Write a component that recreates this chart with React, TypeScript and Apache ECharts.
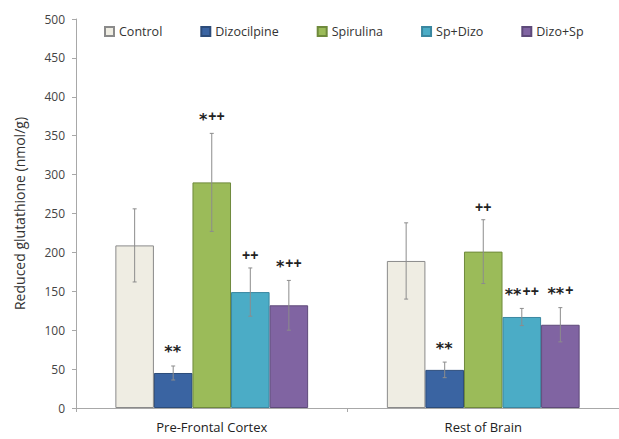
import React, { useEffect, useRef } from "react";
import * as echarts from "echarts";

const categories = ["Pre-Frontal Cortex", "Rest of Brain"];
const seriesNames = ["Control", "Dizocilpine", "Spirulina", "Sp+Dizo", "Dizo+Sp"];
const controlValues = [209, 189];
const dizocilpineValues = [45, 49];
const spirulinaValues = [290, 201];
const spDizoValues = [149, 117];
const dizoSpValues = [132, 107];
const controlErrors = [47, 49];
const dizocilpineErrors = [9, 10];
const spirulinaErrors = [63, 41];
const spDizoErrors = [31, 11];
const dizoSpErrors = [32, 22];
const controlMarks = ["", ""];
const dizocilpineMarks = ["**", "**"];
const spirulinaMarks = ["*++", "++"];
const spDizoMarks = ["++", "**++"];
const dizoSpMarks = ["*++", "**+"];
const yTicks = [0, 50, 100, 150, 200, 250, 300, 350, 400, 450, 500];

const colors = ["#efede3", "#3a64a2", "#9bbb59", "#4bacc6", "#8064a2"];
const borders = ["#8a8a8a", "#2c4c7a", "#6f8a3c", "#3a87a0", "#5e4a7a"];

const allValues = [controlValues, dizocilpineValues, spirulinaValues, spDizoValues, dizoSpValues];
const allErrors = [controlErrors, dizocilpineErrors, spirulinaErrors, spDizoErrors, dizoSpErrors];
const allMarks = [controlMarks, dizocilpineMarks, spirulinaMarks, spDizoMarks, dizoSpMarks];

const GAP = 0.29;

function toRich(mark: string) {
  const stars = mark.replace(/\+/g, "");
  const plus = mark.replace(/\*/g, "");
  let s = "";
  if (stars) s += "{a|" + stars + "}";
  if (plus) s += "{p|" + plus + "}";
  return s;
}

export default function App() {
  const ref = useRef<HTMLDivElement>(null);
  useEffect(() => {
    if (!ref.current) return;
    const chart = echarts.init(ref.current, undefined, { renderer: "svg" });
    const barSeries = seriesNames.map((name, i) => ({
      name,
      type: "bar",
      data: allValues[i],
      barCategoryGap: GAP * 100 + "%",
      barGap: "0%",
      itemStyle: { color: colors[i], borderColor: borders[i], borderWidth: 1 },
    }));
    const errSeries = seriesNames.map((name, i) => ({
      name: name + "_err",
      type: "custom",
      data: categories.map((_, c) => [c, allValues[i][c], allErrors[i][c]]),
      renderItem: (params: any, api: any) => {
        const c = api.value(0);
        const v = api.value(1);
        const e = api.value(2);
        const mark = allMarks[i][c];
        const center = api.coord([c, 0])[0];
        const catW = api.size([1, 0])[0];
        const bw = (catW * (1 - GAP)) / 5;
        const cx = center + (i - 2) * bw;
        const top = api.coord([c, v + e])[1];
        const bot = api.coord([c, v - e])[1];
        const ls = { stroke: "#8c8c8c", lineWidth: 1 };
        return {
          type: "group",
          children: [
            { type: "line", shape: { x1: cx, y1: top, x2: cx, y2: bot }, style: ls },
            { type: "line", shape: { x1: cx - 2, y1: top, x2: cx + 2, y2: top }, style: ls },
            { type: "line", shape: { x1: cx - 2, y1: bot, x2: cx + 2, y2: bot }, style: ls },
            {
              type: "text",
              style: {
                text: toRich(mark),
                x: cx,
                y: top - 6,
                align: "center",
                verticalAlign: "bottom",
                fill: "#222",
                rich: {
                  a: {
                    fontFamily: "DejaVu Sans",
                    fontSize: 16,
                    fontWeight: "bold",
                    fill: "#222",
                    padding: [7, 1, 0, 0],
                  },
                  p: {
                    fontFamily: "Liberation Sans",
                    fontSize: 14,
                    fontWeight: "bold",
                    fill: "#222",
                  },
                },
              },
            },
          ],
        };
      },
      z: 5,
    }));
    chart.setOption({
      animation: false,
      backgroundColor: "#ffffff",
      legend: {
        data: seriesNames,
        top: 20,
        left: 99,
        icon: "rect",
        itemWidth: 9,
        itemHeight: 9,
        itemGap: 38,
        textStyle: { fontSize: 12.5, color: "#333", fontFamily: "Open Sans" },
      },
      grid: { left: 76, right: 0, top: 19, bottom: 31 },
      xAxis: {
        type: "category",
        data: categories,
        axisLine: { lineStyle: { color: "#a8a8a8" } },
        axisTick: { show: true, length: 4, lineStyle: { color: "#a8a8a8" } },
        axisLabel: { fontSize: 13, color: "#222", margin: 12, fontFamily: "Open Sans" },
      },
      yAxis: {
        type: "value",
        min: 0,
        max: 500,
        interval: 50,
        name: "Reduced glutathione (nmol/g)",
        nameLocation: "middle",
        nameGap: 50,
        nameTextStyle: { fontSize: 14, color: "#333", fontFamily: "Open Sans" },
        axisLine: { show: true, lineStyle: { color: "#a8a8a8" } },
        axisTick: { show: true, length: 4, lineStyle: { color: "#a8a8a8" } },
        splitLine: { show: false },
        axisLabel: {
          fontSize: 12,
          color: "#444",
          margin: 11,
          fontFamily: "Open Sans",
          formatter: (v: number) => (yTicks.includes(v) ? String(v) : ""),
        },
      },
      series: [...barSeries, ...errSeries],
    });
    return () => chart.dispose();
  }, []);
  return <div ref={ref} style={{ width: 619, height: 439, position: "absolute", left: 0, top: 0 }} />;
}
